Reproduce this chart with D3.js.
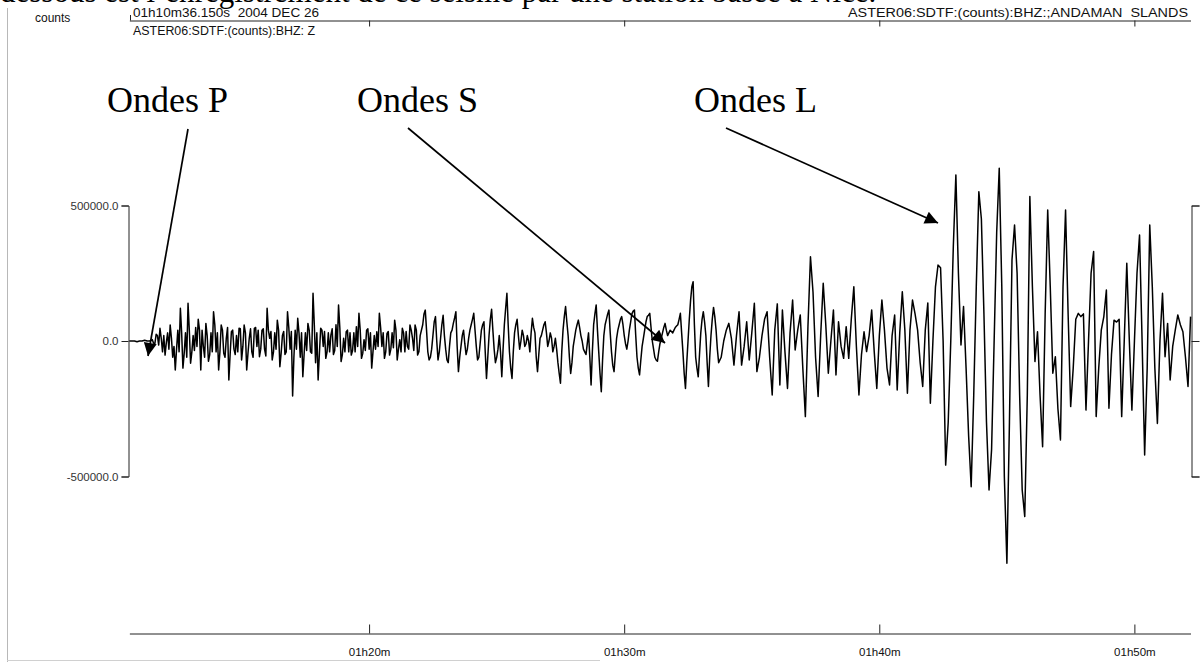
<!DOCTYPE html>
<html>
<head>
<meta charset="utf-8">
<script src="https://cdn.jsdelivr.net/npm/d3@7"></script>
<style>
  body { margin: 0; background: #fff; }
  svg { display: block; }
  text { white-space: pre; }
</style>
</head>
<body>
<svg id="seismo"></svg>
<script>
// enregistrement ASTER06, vertical BHZ, séisme du 26/12/2004
// valeurs en milliers de counts ; chaque segment a son pas d'échantillonnage (min)
const UNIT = 1000;

const preEventStart = 10.6025;   // 01h10m36.150s en minutes
const preEventStep = 0.1;
const samplesPreEvent = [0, 0, 0, -3, 0, 0, 3, 0, 0];

const pWavesStart = 11.5025;
const pWavesStep = 0.05;
const samplesPWaves = [
    5, -8, -10, 25, 20, -15, 47, 10, -40, 20, -52,
    -5, 30, -30, 59, 10, -60, -20, -107, -30, 40, -40, 121, 30, -100, -45, 30, -60, 139, 40, -82,
    -40, 20, -35, 50, -20, 80, 40, -107, 40, -20, -60, 65, 20, -75, -50, 30, -40, 108, 60, -40,
    30, -107, -40, 59, 40, -45, -60, 10, 50, -144, -50, 34, 40, -30, -50, 20, -40, 47, 45, -70,
    -20, 59, 30, -107, -45, 10, 45, -40, -60, 47, 50, -20, 40, -58, -30, 40, 45, -30, -55, 121,
    40, 10, 35, -70, -40, 30, -30, 77, 40, -95, -45, 20, 35, -50, -40, 108, 50, -30, 35, -203,
    -60, 40, -30, 84, 30, -60, 30, -132, -50, 30, -35, 65, 40, -40, -45, 176, 60, -80, 30, -144,
    -45, 47, 40, -20, 35, -64, -40, 30, -40, 22, 45, -50, -35, 60, -20, 133, 50, -76, -50, 10,
    -40, 34, 40, -40, 30, -52, -35, 30, -40, 53, -20, 102, 40, -64, -45, 5, -35, 40, 45, -30,
    30, -100, -40, 20, -30, 34, -20, 102, 50, -20, 30, -64, -40, 28, 35, -52, -30, 30, -25, 77,
    40, -70, -30, 5, -40, 47, 30, -40, 35, -20, -30, 59, 40, 10, -35, 59, 40, -52, -40, 20
];

const sWavesStart = 22.1025;
const sWavesStep = 0.05;
const samplesSWaves = [
    60, 100, 114, 40, -40, -70, -60, -30, 20, 70, 90, 0, -70, -40, 10, 60, 95, 20, -30,
    -70, -80, -20, 30, 40, 65, 85, 108, -20, -113, -60, -20, 20, 40, -10, -50, -30, 10, 40, 60,
    80, 102, 40, -20, -70, -60, -10, 40, 60, 71, -40, -138, -60, 20, 80, 117, 40, -30, -80, -60,
    -30, 20, -40, -132, -30, 60, 120, 176, 60, -40, -100, -138, -40, 30, 60, 80, 20, -30, 0, 40,
    20, -20, -10, 20, 0, -40, 30, 84, 50, 30, -60, -113, -50, 10, 20, 40, 60, 71, 30, -20,
    0, 30, 10, -40, -20, 10, -30, -80, -120, -156, -40, 40, 90, 127, 70, 20, -60, -120, -80, -20,
    10, 40, 60, 77, 50, 20, 0, -30, -40, -50, -10, 30, -60, -162, -40, 60, 100, 133, 40, -40,
    -120, -187, -70, 20, 60, 80, 100, 114, 30, -40, -90, -113, -50, 10, 40, 60, 80, 90, 60, 20,
    -10, -30, 0, 40, 70, 100, 110, 114, 20, -60, -100, -125, -70, -20, 10, 40, 70, 90, 95, 102,
    50, 0, -30, -60, -70, -75, -40, -10, 10, 30, 50, 65, 40, 20, 30, 40, 35, 30, 40, 50,
    55, 60, 80, 102, 30, -40, -120, -175, -80, 0, 80, 150, 200, 219, 60, -60, -100, -132, -50, 30,
    80, 108, 70, 20, -80, -168, -60, 20, 80, 124, 90, 40, -30, -80
];

const lWavesStart = 33.8025;
const lWavesStep = 0.1;
const samplesLWaves = [
    -60, 0, 40, 65, 10, -89, 20, 108, -89, -20,
    71, -70, 30, 139, -113, -60, 20, 80, 108, -60,
    -199, 40, 137, -162, 114, -40, -175, 30, 151, -33,
    40, 96, -100, -279, 50, 311, 180, -60, -205, 20,
    213, 60, -119, 0, 114, -125, 71, -20, -64, 53,
    -64, 80, 200, -20, -199, -50, 34, -39, 20, 114,
    -40, -175, 20, 151, 40, -100, -162, 20, 96, -181,
    30, 182, 40, -193, 40, 151, 100, 40, -80, -168,
    40, 140, -230, 0, 200, 280, 270, 0, -458, -300,
    0, 350, 613, 250, -15, 127, -100, -350, -538, -200,
    200, 551, 450, 100, -300, -550, -400, 0, 400, 637,
    200, -500, -820, -300, 300, 428, 250, -200, -550, -648,
    -200, 533, 200, -76, 34, -200, -390, 100, 483, 200,
    -119, -58, -250, -365, 200, 483, 100, -242, -100, 80,
    102, 90, 100, -255, 0, 250, 330, -279, -100, 40,
    90, 188, -248, -50, 77, 70, 80, -279, 0, 287,
    0, -255, 0, 250, 391, 0, -421, -100, 428, 200,
    -100, -304, 0, 176, -58, 65, -144, -20, 40, 96,
    60, 34, -60, -168, 90
];

const yTicks = [-500000, 0, 500000];
const timeTicks = [20, 30, 40, 50];
const timeEnd = 52.2;

const annotations = [
    { label: 'Ondes P', x: 107, from: [188, 129], to: [148, 356] },
    { label: 'Ondes S', x: 357, from: [408, 128], to: [665, 343] },
    { label: 'Ondes L', x: 694, from: [726, 128], to: [938, 223] }
];

const width = 1201;
const height = 662;

const svg = d3.select('#seismo')
    .attr('width', width)
    .attr('height', height);

const x = d3.scaleLinear().domain([preEventStart, timeEnd]).range([129.36, 1190.5]);
const y = d3.scaleLinear().domain([-500000, 500000]).range([476.5, 205.5]);

function toPoints(values, start, step) {
    return values.map((v, i) => ({ t: start + i * step, v: v * UNIT }));
}

const waveform = [].concat(
    toPoints(samplesPreEvent, preEventStart, preEventStep),
    toPoints(samplesPWaves, pWavesStart, pWavesStep),
    toPoints(samplesSWaves, sWavesStart, sWavesStep),
    toPoints(samplesLWaves, lWavesStart, lWavesStep)
);

// cadre gris de la capture
svg.append('line')
    .attr('x1', 7.5).attr('x2', 7.5).attr('y1', 8).attr('y2', height)
    .attr('stroke', '#b8b8b8');
svg.append('line')
    .attr('x1', 7).attr('x2', 600).attr('y1', 660.5).attr('y2', 660.5)
    .attr('stroke', '#d0d0d0');

// phrase coupée en haut
svg.append('text')
    .attr('x', 0).attr('y', 2)
    .style('font-family', '"Liberation Serif", "Times New Roman", serif')
    .style('font-size', '31px')
    .text('dessous est l\u2019enregistrement de ce séisme par une station basée à Nice.');

const small = g => g.style('font-family', '"Liberation Sans", Arial, sans-serif')
    .style('font-size', '12px').style('fill', '#111');

// en-tete
svg.append('text').attr('x', 35).attr('y', 22).call(small).text('counts');
svg.append('text').attr('x', 133).attr('y', 17).call(small)
    .attr('textLength', 186).attr('lengthAdjust', 'spacingAndGlyphs')
    .text('01h10m36.150s  2004 DEC 26');
svg.append('text').attr('x', 133).attr('y', 35).call(small)
    .attr('textLength', 182).attr('lengthAdjust', 'spacingAndGlyphs')
    .text('ASTER06:SDTF:(counts):BHZ: Z');
svg.append('text').attr('x', 848).attr('y', 17).call(small)
    .attr('textLength', 340).attr('lengthAdjust', 'spacingAndGlyphs')
    .text('ASTER06:SDTF:(counts):BHZ:;ANDAMAN  SLANDS');

// axe du haut
svg.append('g')
    .attr('transform', 'translate(0,20.5)')
    .call(d3.axisTop(x).tickValues(timeTicks).tickSize(-6).tickSizeOuter(0).tickFormat(''));
svg.append('line')
    .attr('x1', 130.5).attr('x2', 130.5).attr('y1', 15).attr('y2', 20.5)
    .attr('stroke', '#222');

// axe vertical gauche
const leftAxis = svg.append('g')
    .attr('transform', 'translate(128.5,0)')
    .call(d3.axisLeft(y).tickValues(yTicks).tickSize(7).tickSizeOuter(7).tickPadding(3)
        .tickFormat(d => d.toFixed(1)));
leftAxis.selectAll('text').call(small).style('font-size', '11.5px').style('fill', '#333');

// axe vertical droit
svg.append('g')
    .attr('transform', 'translate(1191.5,0)')
    .call(d3.axisRight(y).tickValues(yTicks).tickSize(8).tickSizeOuter(8).tickFormat(''));

// axe du temps
const bottomAxis = svg.append('g')
    .attr('transform', 'translate(0,633.5)')
    .call(d3.axisBottom(x).tickValues(timeTicks).tickSize(-9).tickSizeOuter(0).tickPadding(14)
        .tickFormat(d => '01h' + d + 'm'));
bottomAxis.selectAll('text').call(small).style('font-size', '11.5px');

svg.selectAll('.domain, .tick line').attr('stroke', '#222');

// signal
const line = d3.line()
    .x(d => x(d.t))
    .y(d => y(d.v));

svg.append('path')
    .datum(waveform)
    .attr('fill', 'none')
    .attr('stroke', '#000')
    .attr('stroke-width', 1.5)
    .attr('stroke-linejoin', 'round')
    .attr('d', line);

// fleches d'annotation
svg.append('defs').append('marker')
    .attr('id', 'head')
    .attr('viewBox', '0 0 10 10')
    .attr('refX', 10).attr('refY', 5)
    .attr('markerWidth', 17).attr('markerHeight', 13)
    .attr('markerUnits', 'userSpaceOnUse')
    .attr('orient', 'auto')
    .append('path')
    .attr('d', 'M0,0L10,5L0,10Z')
    .attr('fill', '#000');

const ann = svg.append('g');
annotations.forEach(a => {
    ann.append('text')
        .attr('x', a.x).attr('y', 112)
        .style('font-family', '"Liberation Serif", "Times New Roman", serif')
        .style('font-size', '36px')
        .text(a.label);
    ann.append('line')
        .attr('x1', a.from[0]).attr('y1', a.from[1])
        .attr('x2', a.to[0]).attr('y2', a.to[1])
        .attr('stroke', '#000')
        .attr('stroke-width', 1.7)
        .attr('marker-end', 'url(#head)');
});
</script>
</body>
</html>
